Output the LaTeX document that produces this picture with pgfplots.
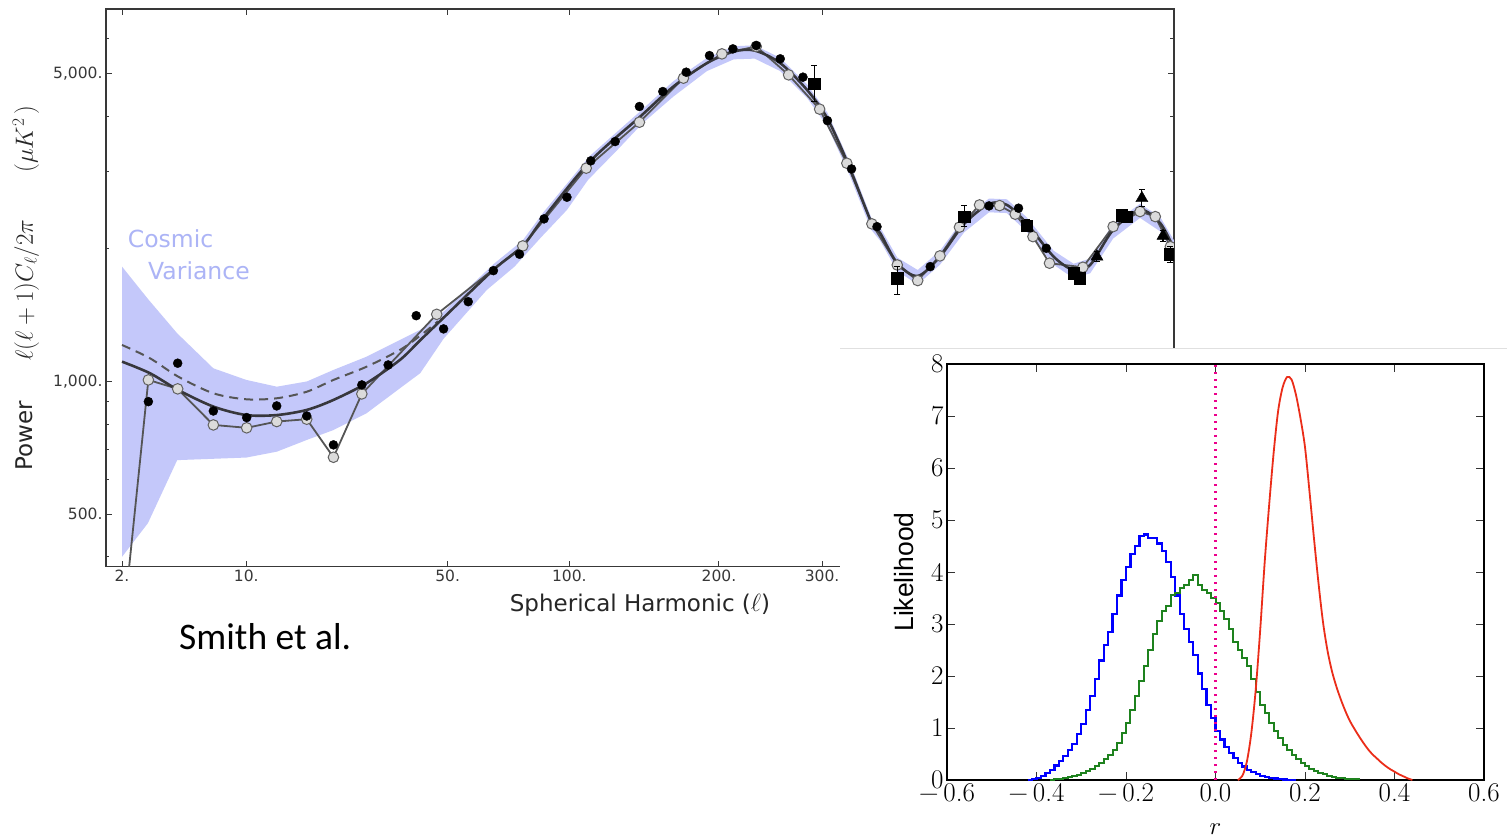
\documentclass[border=0pt]{standalone}
\usepackage{fontspec}
\setmainfont{DejaVu Sans}
\newfontfamily\lib{Liberation Sans}
\newfontfamily\carl{Carlito}
\newfontfamily\lmr{Latin Modern Roman}
\usepackage{pgfplots}
\pgfplotsset{compat=1.18}
\definecolor{bandcol}{RGB}{196,200,250}
\definecolor{cvtext}{RGB}{172,180,246}
\definecolor{gline}{RGB}{85,85,85}
\definecolor{theory}{RGB}{55,55,60}
\definecolor{hgreen}{RGB}{30,130,30}
\definecolor{hred}{RGB}{235,45,25}
\begin{document}
\begin{tikzpicture}[x=1pt,y=1pt]
\useasboundingbox (0,0) rectangle (1507,838);
\fill[white] (0,0) rectangle (1507,838);
% ---------------- main power spectrum ----------------
\begin{axis}[
  at={(106pt,271.3pt)}, anchor=south west,
  scale only axis, width=1068pt, height=557.7pt,
  x coord trafo/.code={\pgfmathparse{exp(0.3*ln(#1))}},
  x coord inv trafo/.code={\pgfmathparse{exp(ln(#1)/0.3)}},
  xmin=1.515, xmax=901,
  ymode=log, ymin=380, ymax=7000,
  xtick={2,10,50,100,200,300},
  xticklabels={2.,10.,50.,100.,200.,300.},
  ytick={500,1000,5000},
  yticklabels={500.,{1,000.},{5,000.}},
  minor ytick={400,600,700,800,900,2000,3000,4000,6000},
  tick align=inside,
  major tick length=6pt, minor tick length=3.5pt,
  axis line style={draw=black!78, line width=1.3pt},
  every tick/.style={black!78, line width=1pt},
  tick label style={font=\fontsize{15.5}{16}\selectfont, text=black!78},
  xlabel={Spherical Harmonic ($\ell$)},
  xlabel style={at={(axis description cs:0.5,-0.0812)}, anchor=base, font=\fontsize{23}{23}\selectfont, text=black!85},
  ylabel={{\fontsize{23}{23}\selectfont Power}\hspace{40pt}$\ell(\ell+1)C_\ell/2\pi$\hspace{47pt}$(\mu K^2\,)$},
  ylabel style={at={(axis description cs:-0.0684,0.5)}, anchor=base, font=\fontsize{23}{23}\selectfont, text=black!85},
  clip marker paths=true,
]
% cosmic variance band
\addplot[fill=bandcol, draw=none, forget plot] coordinates {
(2,1822) (3,1539) (4.5,1286) (7,1071) (10,1008) (13.5,973) (17.7,1000) (22.1,1062) (28.6,1138) (36.4,1242) (41.8,1309)
(48.7,1440) (66,1845) (78,2090) (87.3,2420) (111,3250) (141.4,4100) (164.4,4800) (190.1,5420) (212.6,5760) (231.5,5790)
(256,5420) (283.6,4720) (306,4070) (331,3170) (358.2,2355) (369.6,2235) (392,1910) (420,1790) (452.1,1980) (489,2350)
(528.9,2600) (559,2590) (593.4,2360) (643.3,1980) (681.9,1850) (715.3,1900) (763.3,2280) (822.2,2530) (868.5,2360) (901,2090)
(901,1940) (868.5,2190) (822.2,2350) (763.3,2110) (715.3,1760) (681.9,1715) (643.3,1840) (593.4,2190) (559,2410) (528.9,2420)
(489,2180) (452.1,1840) (420,1660) (392,1780) (369.6,2085) (358.2,2210) (331,2960) (306,3790) (283.6,4400) (256,5060)
(231.5,5400) (212.6,5380) (190.1,5060) (164.4,4430) (143,3855) (127,3353) (110,2867) (98.8,2450) (86.5,2131) (74.5,1822)
(63.5,1613) (48.7,1250) (41.8,1044) (36.4,965) (28.6,847) (22.1,776) (17.7,737) (13.5,693) (10,672) (4.5,663) (3,477) (2,400)
} -- cycle;
% dashed model
\addplot[gline, line width=2pt, dash pattern=on 9pt off 6pt, smooth] coordinates {
(2,1210) (3.09,1129) (4.57,1025) (7,940) (10,911) (13.5,916) (17.7,948) (22.1,1008) (28.6,1080) (36.4,1179) (41.8,1270) (47,1370)
};
% line through open circles
\addplot[gline, line width=1.8pt] coordinates {
(2,264) (3.02,1008) (4.53,962) (7.0,797) (10.04,785) (13.48,811) (17.67,821) (22.1,673) (27.6,937) (46.6,1420) (78.0,2030)
(109,3047) (140.9,3874) (171.8,4876) (202.5,5536) (232.9,5754) (264.4,4961) (297.3,4148) (328.4,3127) (359,2278) (392,1838)
(420,1694) (452.1,1927) (481.6,2239) (513.4,2515) (546.5,2506) (573.4,2396) (605,2131) (635.6,1855) (700.5,1816) (763.3,2245)
(822.2,2429) (857,2366) (892.3,2022)
};
% solid model
\addplot[theory, line width=2.6pt, smooth] coordinates {
(2,1109) (3.09,1044) (4.57,956) (7,877) (10,839) (13.5,839) (17.7,862) (22.1,908) (28.6,991) (36.4,1119) (41.8,1240) (48.7,1395)
(66,1791) (78,2030) (87.3,2346) (111,3154) (141.4,3990) (164.4,4668) (190.1,5275) (212.6,5603) (231.5,5633) (256,5275)
(283.6,4587) (306,3950) (331,3080) (358.2,2300) (369.6,2170) (392,1855) (420,1735) (452.1,1920) (489,2278) (528.9,2528)
(559,2515) (593.4,2286) (643.3,1920) (681.9,1791) (715.3,1838) (763.3,2207) (822.2,2450) (868.5,2286) (901,2000)
};
% open circles
\addplot[only marks, mark=*, mark size=5.3pt, mark options={fill=black!14, draw=black!62, line width=1pt}] coordinates {
(3.02,1008) (4.53,962) (7.0,797) (10.04,785) (13.48,811) (17.67,821) (22.1,673) (27.6,937) (46.6,1420) (78.0,2030)
(109,3047) (140.9,3874) (171.8,4876) (202.5,5536) (232.9,5754) (264.4,4961) (297.3,4148) (328.4,3127) (359,2278) (392,1838)
(420,1694) (452.1,1927) (481.6,2239) (513.4,2515) (546.5,2506) (573.4,2396) (605,2131) (635.6,1855) (700.5,1816) (763.3,2245)
(822.2,2429) (857,2366) (892.3,2022)
};
% filled circles
\addplot[only marks, mark=*, mark size=4.5pt, mark options={fill=black, draw=black}] coordinates {
(3.02,900) (4.53,1100) (7.0,857) (10.04,828) (13.48,880) (17.67,835) (22.1,718) (27.6,982) (33.5,1090) (40.7,1410) (48.7,1316)
(56.8,1517) (66,1784) (76.6,1944) (87.6,2338) (98.8,2618) (111.5,3166) (125.6,3502) (140.9,4205) (156.8,4547) (173.9,5031)
(192.2,5487) (211.9,5683) (232.9,5782) (256,5395) (279.3,4902) (306,3907) (334,3035) (365.5,2245) (437.9,1822) (528.9,2502)
(579.2,2472) (629.5,2005)
};
% squares with error bars
\addplot[only marks, mark=square*, mark size=5.8pt, mark options={fill=black, draw=black},
  error bars/.cd, y dir=both, y explicit, error bar style={black, line width=1.1pt},
  error mark options={rotate=90, mark size=3pt, line width=1.1pt}] coordinates {
(291.5,4734) += (0,467) -= (0,419)
(392,1715) += (0,107) -= (0,143)
(489,2366) += (0,136) -= (0,124)
(593.4,2254) += (0,70) -= (0,70)
(681.9,1760) += (0,45) -= (0,45)
(693.8,1715) += (0,45) -= (0,45)
(781.9,2387) += (0,55) -= (0,55)
(792.9,2366) += (0,55) -= (0,55)
(892.3,1944) += (0,80) -= (0,80)
};
% triangles
\addplot[only marks, mark=triangle*, mark size=7pt, mark options={fill=black, draw=black},
  error bars/.cd, y dir=both, y explicit, error bar style={black, line width=1.1pt},
  error mark options={rotate=90, mark size=3pt, line width=1.1pt}] coordinates {
(729.1,1920) += (0,50) -= (0,50)
(826.3,2604) += (0,116) -= (0,111)
(874.9,2139) += (0,60) -= (0,60)
};
\end{axis}
% labels in the main panel
\node[anchor=base west, text=cvtext, font=\fontsize{23.5}{24}\selectfont, inner sep=0pt] at (127.7,590) {Cosmic};
\node[anchor=base west, text=cvtext, font=\fontsize{23.5}{24}\selectfont, inner sep=0pt] at (148,558) {Variance};
\node[anchor=base west, font=\carl\fontsize{37.5}{38}\selectfont, inner sep=0pt] at (179,188) {Smith et al.};
% ---------------- inset ----------------
\fill[white] (840,0) rectangle (1507,490);
\draw[black!12, line width=1pt] (840,489.5) -- (1507,489.5);
\begin{axis}[
  at={(947pt,58pt)}, anchor=south west,
  scale only axis, width=537pt, height=416pt,
  xmin=-0.6, xmax=0.6, ymin=0, ymax=8,
  xtick={-0.6,-0.4,-0.2,0,0.2,0.4,0.6},
  xticklabels={{−\kern5pt0.6},{−\kern5pt0.4},{−\kern5pt0.2},0.0,0.2,0.4,0.6},
  ytick={0,1,2,3,4,5,6,7,8},
  yticklabels={0,1,2,3,4,5,6,7,8},
  tick align=inside, major tick length=8pt,
  axis line style={black, line width=1.6pt},
  every tick/.style={black!80, line width=0.8pt},
  tick label style={font=\lmr\fontsize{27}{27}\selectfont, text=black},
  xlabel={$r$},
  xlabel style={at={(axis description cs:0.5,-0.13)}, anchor=base, font=\fontsize{24}{24}\selectfont},
  ylabel={Likelihood},
  ylabel style={at={(axis description cs:-0.0633,0.5)}, anchor=base, font=\lib\fontsize{26.5}{27}\selectfont},
]
\addplot[blue, line width=2.2pt, const plot] coordinates {
(-0.42,0) (-0.41,0.02) (-0.40,0.04) (-0.39,0.08) (-0.38,0.13) (-0.37,0.2) (-0.36,0.28) (-0.35,0.36) (-0.34,0.46)
(-0.33,0.58) (-0.32,0.7) (-0.31,0.88) (-0.30,1.08) (-0.29,1.35) (-0.28,1.62) (-0.27,1.95) (-0.26,2.3) (-0.25,2.6)
(-0.24,2.85) (-0.23,3.2) (-0.22,3.55) (-0.21,3.85) (-0.20,4.1) (-0.19,4.35) (-0.18,4.5) (-0.17,4.7) (-0.16,4.72)
(-0.15,4.65) (-0.14,4.65) (-0.13,4.55) (-0.12,4.4) (-0.11,4.2) (-0.10,3.9) (-0.09,3.55) (-0.08,3.2) (-0.07,2.9)
(-0.06,2.65) (-0.05,2.4) (-0.04,2.05) (-0.03,1.75) (-0.02,1.45) (-0.01,1.2) (0.00,0.95) (0.01,0.78) (0.02,0.64)
(0.03,0.52) (0.04,0.42) (0.05,0.33) (0.06,0.26) (0.07,0.2) (0.08,0.15) (0.09,0.11) (0.10,0.08) (0.11,0.06)
(0.12,0.04) (0.13,0.03) (0.14,0.02) (0.15,0.01) (0.16,0.005) (0.17,0) (0.18,0)
};
\addplot[hgreen, line width=2pt, const plot] coordinates {
(-0.37,0) (-0.36,0.01) (-0.35,0.02) (-0.34,0.03) (-0.33,0.05) (-0.32,0.07) (-0.31,0.1) (-0.30,0.13) (-0.29,0.17)
(-0.28,0.22) (-0.27,0.27) (-0.26,0.33) (-0.25,0.4) (-0.24,0.48) (-0.23,0.58) (-0.22,0.72) (-0.21,0.9) (-0.20,1.1)
(-0.19,1.35) (-0.18,1.62) (-0.17,1.9) (-0.16,2.2) (-0.15,2.5) (-0.14,2.8) (-0.13,3.05) (-0.12,3.25) (-0.11,3.35)
(-0.10,3.55) (-0.09,3.6) (-0.08,3.7) (-0.07,3.75) (-0.06,3.85) (-0.05,3.95) (-0.04,3.75) (-0.03,3.65) (-0.02,3.6)
(-0.01,3.5) (0.00,3.4) (0.01,3.25) (0.02,3.1) (0.03,2.9) (0.04,2.65) (0.05,2.5) (0.06,2.35) (0.07,2.2) (0.08,1.95)
(0.09,1.7) (0.10,1.45) (0.11,1.28) (0.12,1.1) (0.13,0.95) (0.14,0.8) (0.15,0.68) (0.16,0.58) (0.17,0.48) (0.18,0.4)
(0.19,0.33) (0.20,0.27) (0.21,0.22) (0.22,0.18) (0.23,0.14) (0.24,0.11) (0.25,0.08) (0.26,0.06) (0.27,0.04)
(0.28,0.03) (0.29,0.02) (0.30,0.015) (0.31,0.01) (0.32,0)
};
\addplot[hred, line width=1.8pt, smooth] coordinates {
(0.05,0) (0.06,0.08) (0.07,0.35) (0.08,0.9) (0.09,1.75) (0.10,2.9) (0.11,4.2) (0.12,5.3) (0.13,6.3) (0.14,7.1)
(0.15,7.55) (0.16,7.75) (0.17,7.7) (0.18,7.4) (0.19,6.95) (0.20,6.4) (0.21,5.55) (0.22,4.65) (0.23,3.8) (0.24,3.05)
(0.25,2.5) (0.26,2.1) (0.27,1.8) (0.28,1.55) (0.29,1.33) (0.30,1.14) (0.31,0.99) (0.32,0.85) (0.33,0.72) (0.34,0.6)
(0.35,0.5) (0.36,0.42) (0.37,0.34) (0.38,0.27) (0.39,0.21) (0.40,0.16) (0.41,0.11) (0.42,0.07) (0.43,0.03) (0.44,0)
};
\addplot[magenta, line width=2.4pt, dash pattern=on 2.4pt off 4.6pt] coordinates {(0,0) (0,8)};
\end{axis}
\end{tikzpicture}
\end{document}
